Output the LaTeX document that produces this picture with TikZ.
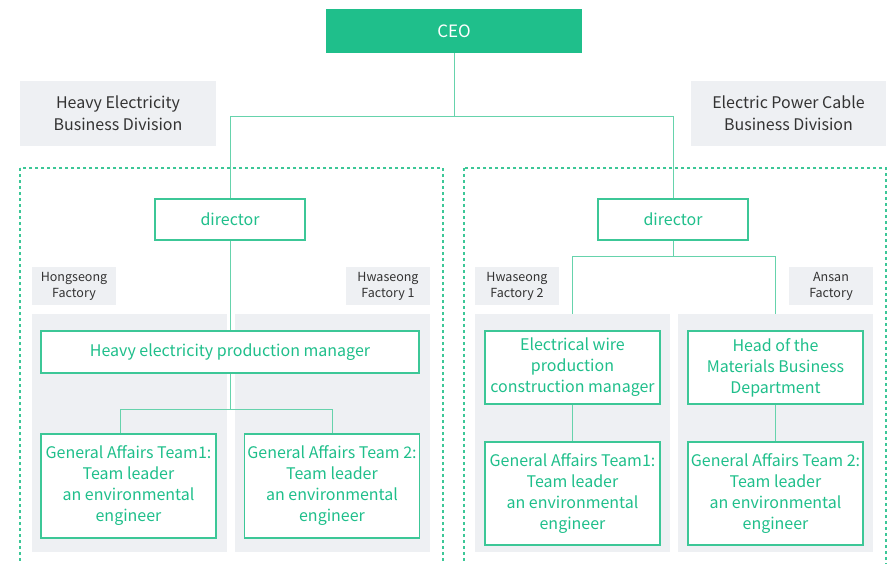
\documentclass[tikz,border=0pt]{standalone}
\usepackage{fontspec}
\setmainfont{Noto Sans CJK KR}
\definecolor{mint}{HTML}{1FBF8B}
\definecolor{minted}{HTML}{3CC797}
\definecolor{wire}{HTML}{66D3AC}
\definecolor{pale}{HTML}{EEF0F3}
\definecolor{ink}{HTML}{333333}
\pgfdeclarelayer{back}
\pgfdeclarelayer{mid}
\pgfsetlayers{back,mid,main}
\tikzset{
  post/.style={draw=minted, line width=1.2pt, fill=white, text=mint, align=center,
    font=\fontsize{16}{21}\selectfont, inner sep=0pt},
  division/.style={fill=pale, text=ink, align=center, inner sep=0pt,
    font=\fontsize{16}{22}\selectfont},
  site/.style={fill=pale, text=ink, align=center, inner sep=0pt,
    minimum width=84pt, minimum height=38pt, font=\fontsize{12.5}{16}\selectfont},
  panel/.style={fill=pale, inner sep=0pt, minimum width=195pt, minimum height=238pt},
  link/.style={draw=wire, line width=1pt},
  group/.style={draw=minted, line width=1.4pt, dash pattern=on 3pt off 3pt}
}
\begin{document}
\begin{tikzpicture}[x=1pt,y=-1pt]
  \useasboundingbox (0,0) rectangle (888,563);
  \clip (0,0) rectangle (888,563);

  \node[fill=mint, text=white, minimum width=256pt, minimum height=44pt, inner sep=0pt,
    font=\fontsize{17}{20}\selectfont] (ceo) at (454,31) {CEO};

  \node[division, minimum width=196pt, minimum height=65pt] (heavy) at (118,113.5)
    {Heavy Electricity\\Business Division};
  \node[division, minimum width=195pt, minimum height=65pt] (cable) at (788.5,113.5)
    {Electric Power Cable\\Business Division};

  \draw[group] (20,168) rectangle (443,600);
  \draw[group] (464,168) rectangle (886,600);

  \node[post, minimum width=150pt, minimum height=41pt] (dir1) at (230,219.5) {director};
  \node[post, minimum width=150pt, minimum height=41pt] (dir2) at (673,219.5) {director};

  \node[site] (hong) at (74,286) {Hongseong\\Factory};
  \node[site] (hwa1) at (388,286) {Hwaseong\\Factory 1};
  \node[site] (hwa2) at (517,286) {Hwaseong\\Factory 2};
  \node[site] (ansan) at (831,286) {Ansan\\Factory};

  \begin{pgfonlayer}{mid}
    \node[panel] (p1) at (129.5,433) {};
    \node[panel] (p2) at (332.5,433) {};
    \node[panel] (p3) at (572.5,433) {};
    \node[panel] (p4) at (775.5,433) {};
  \end{pgfonlayer}

  \node[post, minimum width=378pt, minimum height=42pt] (pm) at (230,352)
    {Heavy electricity production manager};
  \node[post, minimum width=175pt, minimum height=104pt] (ga1) at (128.5,486)
    {General Affairs Team1:\\Team leader\\an environmental\\engineer};
  \node[post, minimum width=175pt, minimum height=104pt] (ga2) at (332,486)
    {General Affairs Team 2:\\Team leader\\an environmental\\engineer};

  \node[post, minimum width=175pt, minimum height=73pt] (wire) at (572.5,367.5)
    {Electrical wire\\production\\construction manager};
  \node[post, minimum width=175pt, minimum height=73pt] (head) at (775.5,367.5)
    {Head of the\\Materials Business\\Department};
  \node[post, minimum width=175pt, minimum height=103pt] (ga3) at (572.5,493.5)
    {General Affairs Team1:\\Team leader\\an environmental\\engineer};
  \node[post, minimum width=175pt, minimum height=103pt] (ga4) at (775.5,493.5)
    {General Affairs Team 2:\\Team leader\\an environmental\\engineer};

  \coordinate (split) at (454,116);
  \coordinate (fork1) at (230,409);
  \coordinate (fork2) at (673,256);

  \draw[link] (ceo) -- (split) -| (dir1);
  \draw[link] (split) -| (dir2);
  \draw[link] (dir1) -- (pm);
  \draw[link] (pm) -- (fork1) -| ([xshift=-8.5pt]ga1.north);
  \draw[link] (fork1) -| (ga2);
  \begin{pgfonlayer}{back}
    \draw[link] (dir2) -- (fork2) -| (wire);
    \draw[link] (fork2) -| (head);
  \end{pgfonlayer}
  \draw[link] (wire) -- (ga3);
  \draw[link] (head) -- (ga4);
\end{tikzpicture}
\end{document}
